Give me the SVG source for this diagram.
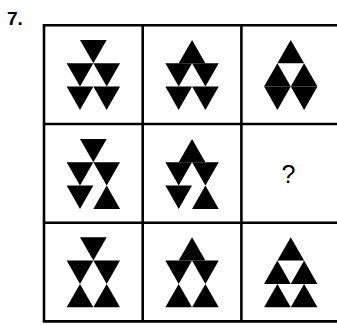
<svg xmlns="http://www.w3.org/2000/svg" width="337" height="325" viewBox="0 0 337 325">
  <style>
    .grid { stroke: #000; stroke-width: 2.6; fill: none; }
    .tri { fill: #000; }
    .num { font-family: "Liberation Sans", Arial, sans-serif; font-weight: bold; font-size: 19px; fill: #000; }
    .q { font-family: "Liberation Sans", Arial, sans-serif; font-size: 25px; fill: #000; }
  </style>
  <defs>
    <polygon id="up" class="tri" points="13.35,0 26.7,23.3 0,23.3"/>
    <polygon id="dn" class="tri" points="0,0 26.7,0 13.35,23.3"/>
  </defs>
  <rect width="337" height="325" fill="#fff"/>
  <text class="num" x="7" y="25">7.</text>
  <g id="grid">
    <path class="grid" d="M44,25.3 H345 M44,124 H345 M44,222.7 H345 M44,321.4 H345 M44,24 V322.7 M142.7,24 V322.7 M241.4,24 V322.7"/>
  </g>
  <!-- row 1 -->
  <g id="cell-1-1" transform="translate(93.35,40)">
    <use href="#dn" x="-13.35" y="0"/>
    <use href="#dn" x="-26.7" y="23.3"/><use href="#dn" x="0" y="23.3"/>
    <use href="#dn" x="-26.7" y="46.6"/><use href="#dn" x="0" y="46.6"/>
  </g>
  <g id="cell-1-2" transform="translate(192.05,40)">
    <use href="#up" x="-13.35" y="0"/>
    <use href="#dn" x="-26.7" y="23.3"/><use href="#dn" x="0" y="23.3"/>
    <use href="#dn" x="-26.7" y="46.6"/><use href="#dn" x="0" y="46.6"/>
  </g>
  <g id="cell-1-3" transform="translate(290.75,40)">
    <use href="#up" x="-13.35" y="0"/>
    <use href="#up" x="-26.7" y="23.3"/><use href="#up" x="0" y="23.3"/>
    <use href="#dn" x="-26.7" y="46.6"/><use href="#dn" x="0" y="46.6"/>
  </g>
  <!-- row 2 -->
  <g id="cell-2-1" transform="translate(93.35,139)">
    <use href="#dn" x="-13.35" y="0"/>
    <use href="#dn" x="-26.7" y="23.3"/><use href="#dn" x="0" y="23.3"/>
    <use href="#dn" x="-26.7" y="46.6"/><use href="#up" x="0" y="46.6"/>
  </g>
  <g id="cell-2-2" transform="translate(192.05,139)">
    <use href="#up" x="-13.35" y="0"/>
    <use href="#dn" x="-26.7" y="23.3"/><use href="#dn" x="0" y="23.3"/>
    <use href="#dn" x="-26.7" y="46.6"/><use href="#up" x="0" y="46.6"/>
  </g>
  <g id="cell-2-3">
    <text class="q" x="288.5" y="183" text-anchor="middle">?</text>
  </g>
  <!-- row 3 -->
  <g id="cell-3-1" transform="translate(93.35,237.3)">
    <use href="#dn" x="-13.35" y="0"/>
    <use href="#dn" x="-26.7" y="23.3"/><use href="#dn" x="0" y="23.3"/>
    <use href="#up" x="-26.7" y="46.6"/><use href="#up" x="0" y="46.6"/>
  </g>
  <g id="cell-3-2" transform="translate(192.05,237.3)">
    <use href="#up" x="-13.35" y="0"/>
    <use href="#dn" x="-26.7" y="23.3"/><use href="#dn" x="0" y="23.3"/>
    <use href="#up" x="-26.7" y="46.6"/><use href="#up" x="0" y="46.6"/>
  </g>
  <g id="cell-3-3" transform="translate(290.75,237.3)">
    <use href="#up" x="-13.35" y="0"/>
    <use href="#up" x="-26.7" y="23.3"/><use href="#up" x="0" y="23.3"/>
    <use href="#up" x="-26.7" y="46.6"/><use href="#up" x="0" y="46.6"/>
  </g>
</svg>
